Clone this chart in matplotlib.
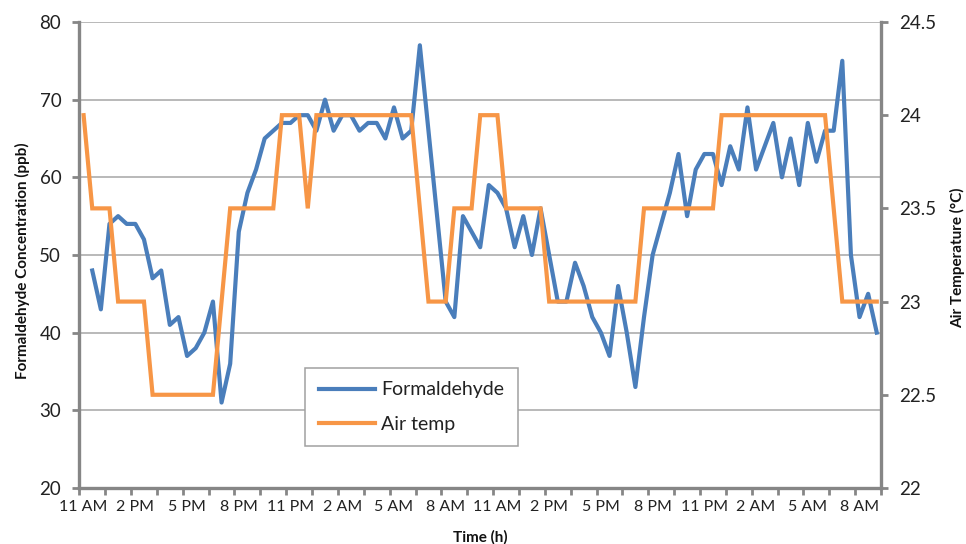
import numpy as np
import matplotlib
matplotlib.use("Agg")
import matplotlib.pyplot as plt

plt.rcParams['font.family'] = ['Lato', 'DejaVu Sans']

# half-hourly readings starting 11 AM (first formaldehyde reading missing)
formaldehyde = [np.nan, 48, 43, 54, 55, 54, 54, 52, 47, 48,
                41, 42, 37, 38, 40, 44, 31, 36, 53, 58,
                61, 65, 66, 67, 67, 68, 68, 66, 70, 66,
                68, 68, 66, 67, 67, 65, 69, 65, 66, 77,
                66, 55, 44, 42, 55, 53, 51, 59, 58, 56,
                51, 55, 50, 56, 50, 44, 44, 49, 46, 42,
                40, 37, 46, 40, 33, 42, 50, 54, 58, 63,
                55, 61, 63, 63, 59, 64, 61, 69, 61, 64,
                67, 60, 65, 59, 67, 62, 66, 66, 75, 50,
                42, 45, 40]
air_temp = [24, 23.5, 23.5, 23.5, 23, 23, 23, 23, 22.5, 22.5,
            22.5, 22.5, 22.5, 22.5, 22.5, 22.5, 23, 23.5, 23.5, 23.5,
            23.5, 23.5, 23.5, 24, 24, 24, 23.5, 24, 24, 24,
            24, 24, 24, 24, 24, 24, 24, 24, 24, 23.5,
            23, 23, 23, 23.5, 23.5, 23.5, 24, 24, 24, 23.5,
            23.5, 23.5, 23.5, 23.5, 23, 23, 23, 23, 23, 23,
            23, 23, 23, 23, 23, 23.5, 23.5, 23.5, 23.5, 23.5,
            23.5, 23.5, 23.5, 23.5, 24, 24, 24, 24, 24, 24,
            24, 24, 24, 24, 24, 24, 24, 23.5, 23, 23,
            23, 23, 23]
time_labels = ['11 AM', '2 PM', '5 PM', '8 PM', '11 PM', '2 AM', '5 AM', '8 AM',
               '11 AM', '2 PM', '5 PM', '8 PM', '11 PM', '2 AM', '5 AM', '8 AM']

x = np.arange(len(air_temp))
n = len(x)

blue = '#4A7EBB'
orange = '#F79646'
axis_grey = '#868686'
grid_grey = '#A6A6A6'

fig = plt.figure(figsize=(9.66, 5.44), dpi=100)
ax = fig.add_axes([0.0821, 0.103, 0.830, 0.8566])
ax2 = ax.twinx()

l1, = ax.plot(x, formaldehyde, color=blue, lw=3, solid_joinstyle='round', label='Formaldehyde')
l2, = ax2.plot(x, air_temp, color=orange, lw=3, solid_joinstyle='miter', label='Air temp')

ax.set_xlim(-0.5, n - 0.5)
ax.set_ylim(20, 80)
ax2.set_ylim(22, 24.5)
ax.set_yticks(np.arange(20, 81, 10))
ax2.set_yticks(np.arange(22, 24.51, 0.5))
ax2.set_yticklabels(['22', '22.5', '23', '23.5', '24', '24.5'])

ax.set_xticks(np.arange(0, n, 6))
ax.set_xticklabels(time_labels)
ax.set_xticks(np.arange(-0.5, n, 3), minor=True)
ax.tick_params(axis='x', which='major', length=0, pad=9, labelsize=11.5, colors='#222222')
ax.tick_params(axis='x', which='minor', length=5, width=2, color=axis_grey, direction='out')
ax.tick_params(axis='y', length=5, width=2, color=axis_grey, pad=8, labelsize=13.5, labelcolor='#222222')
ax2.tick_params(axis='y', length=5, width=2, color=axis_grey, pad=8, labelsize=13.5, labelcolor='#222222')

ax.grid(axis='y', color=grid_grey, lw=1.1)
ax.set_axisbelow(True)
for a in (ax, ax2):
    a.spines['top'].set_visible(False)
    for s in ('left', 'bottom', 'right'):
        a.spines[s].set_color(axis_grey)
        a.spines[s].set_linewidth(2.4)
ax.spines['right'].set_visible(False)
ax2.spines['left'].set_visible(False)
ax2.spines['bottom'].set_visible(False)

fig.text(0.0228, 0.52, 'Formaldehyde Concentration (ppb)', rotation=90, ha='center', va='center',
         fontsize=11, fontweight='bold', color='#111111')
fig.text(0.9917, 0.527, 'Air Temperature (°C)', rotation=90, ha='center', va='center',
         fontsize=11, fontweight='bold', color='#111111')
fig.text(0.497, 0.013, 'Time (h)', ha='center', va='center',
         fontsize=11, fontweight='bold', color='#111111')

leg = ax2.legend([l1, l2], ['Formaldehyde', 'Air temp'], loc='upper left',
                 bbox_to_anchor=(0.282, 0.258), fontsize=14, handlelength=2.9,
                 labelspacing=0.9, borderpad=0.7, handletextpad=0.3, borderaxespad=0,
                 fancybox=False, framealpha=1, edgecolor='#A0A0A0')
leg.get_frame().set_linewidth(1.1)
for t in leg.get_texts():
    t.set_color('#222222')

fig.savefig('out.png', dpi=100)
